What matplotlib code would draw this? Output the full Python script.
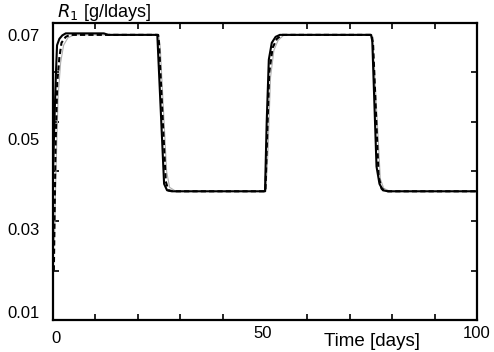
import matplotlib
matplotlib.use("Agg")
import matplotlib.pyplot as plt
from matplotlib.ticker import MultipleLocator, FixedLocator
from matplotlib.transforms import ScaledTranslation

plt.rcParams['font.family'] = ['Liberation Sans', 'DejaVu Sans']

# solid (thick black)
t_solid = [0, 0.4, 0.7, 0.95, 1.5, 2.2, 3.0, 12.0, 13.0, 24.6, 26.2, 26.9, 28.0,
           50.0, 50.4, 50.9, 51.6, 52.5, 53.5, 75.0, 75.3, 76.3, 77.0, 77.8, 79.0, 100.0]
r_solid = [0.040, 0.052, 0.060, 0.0655, 0.0668, 0.0675, 0.0679, 0.0679, 0.0676, 0.0676,
           0.0375, 0.0362, 0.0360, 0.0360, 0.0500, 0.0626, 0.0660, 0.0672, 0.0676, 0.0676,
           0.0664, 0.0410, 0.0375, 0.0362, 0.0360, 0.0360]

# dashed (black)
t_dash = [0.2, 0.6, 1.0, 1.5, 2.0, 3.0, 4.0, 24.8, 25.0, 26.6, 27.2, 28.5,
          50.1, 50.5, 51.0, 51.8, 52.8, 54.0, 75.2, 75.5, 76.8, 77.5, 79.0, 100.0]
r_dash = [0.020, 0.045, 0.058, 0.063, 0.066, 0.0672, 0.0676, 0.0676, 0.0660, 0.0380,
          0.0362, 0.0360, 0.0360, 0.0470, 0.0600, 0.0650, 0.0668, 0.0676, 0.0676, 0.0655,
          0.0390, 0.0365, 0.0360, 0.0360]

# thin grey
t_grey = [0.3, 0.7, 1.2, 1.8, 2.5, 3.5, 5.0, 24.9, 25.3, 26.8, 27.5, 29.0,
          50.2, 50.7, 51.3, 52.1, 53.1, 54.5, 75.2, 75.6, 77.2, 78.0, 79.5, 100.0]
r_grey = [0.025, 0.040, 0.055, 0.062, 0.0655, 0.0670, 0.0676, 0.0676, 0.0650, 0.0400,
          0.0368, 0.0360, 0.0360, 0.0440, 0.0590, 0.0645, 0.0665, 0.0676, 0.0676, 0.0640,
          0.0385, 0.0366, 0.0360, 0.0360]

y_ticks = [0.01, 0.02, 0.03, 0.04, 0.05, 0.06, 0.07]
y_labels = ['0.01', '', '0.03', '', '0.05', '', '0.07']
x_ticks = [0, 50, 100]

fig = plt.figure(figsize=(4.94, 3.52), dpi=100)
ax = fig.add_axes([0.1073, 0.0909, 0.8583, 0.8438])

ax.plot(t_grey, r_grey, color='#b0b0b0', lw=0.8)
ax.plot(t_dash, r_dash, color='black', lw=1.5, ls=(0, (2.5, 1.5)))
ax.plot(t_solid, r_solid, color='black', lw=1.5)

ax.set_xlim(0, 100)
ax.set_ylim(0.01, 0.07)
ax.xaxis.set_major_locator(FixedLocator(x_ticks))
ax.xaxis.set_minor_locator(MultipleLocator(10))
ax.set_xticklabels([str(v) for v in x_ticks])
ax.set_yticks(y_ticks)
ax.set_yticklabels(y_labels)

for s in ax.spines.values():
    s.set_linewidth(1.6)
ax.tick_params(which='both', direction='in', top=True, right=True, width=1.2,
               labelsize=12)
ax.tick_params(which='major', length=4)
ax.tick_params(which='minor', length=4)
ax.tick_params(axis='x', which='major', length=0, pad=2)
ax.tick_params(axis='y', pad=9.5)
ax.xaxis.get_major_ticks()[0].set_pad(8)

# nudge tick labels like in the original figure (pixel offsets)
def nudge(label, dx, dy):
    label.set_transform(label.get_transform() +
                        ScaledTranslation(dx / 100, dy / 100, fig.dpi_scale_trans))

y_nudge = {0.01: 8, 0.03: -8, 0.05: -17, 0.07: -12}
for tick in ax.yaxis.get_major_ticks():
    v = round(tick.get_loc(), 2)
    if v in y_nudge:
        nudge(tick.label1, 0, y_nudge[v])
x_nudge = {0: (3, 0), 50: (-2, -3), 100: (0, -3)}
for tick in ax.xaxis.get_major_ticks():
    nudge(tick.label1, *x_nudge[round(tick.get_loc())])

ax.text(0.64, -0.045, 'Time [days]', transform=ax.transAxes, fontsize=13.5,
        ha='left', va='top')
ax.text(0.01, 1.0, r'$\it{R}_{\it{1}}$ [g/ldays]', transform=ax.transAxes,
        fontsize=13, ha='left', va='bottom')

fig.savefig('out.png', dpi=100)
